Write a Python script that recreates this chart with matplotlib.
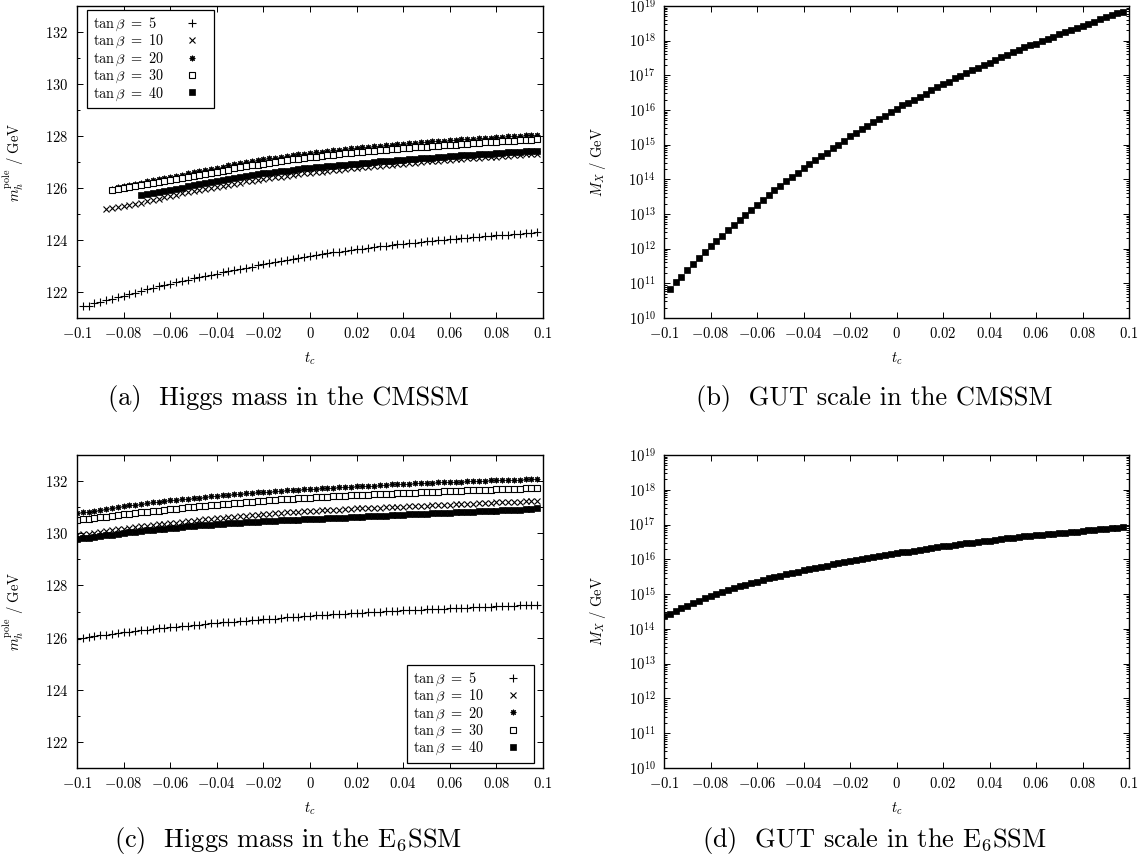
import numpy as np
import matplotlib
matplotlib.use("Agg")
import matplotlib.pyplot as plt
from matplotlib.ticker import FixedLocator, FuncFormatter, LogLocator, NullFormatter, MultipleLocator

plt.rcParams.update({
    "font.family": "serif",
    "font.serif": ["cmr10"],
    "mathtext.fontset": "cm",
    "axes.formatter.use_mathtext": True,
    "axes.unicode_minus": False,
})

# ---- scan grids in t_c (step 0.0025) ----
tc_cmssm = np.round(np.arange(-39, 40) * 0.0025, 4)      # -0.0975 ... 0.0975
tc_e6ssm = np.round(np.arange(-40, 40) * 0.0025, 4)      # -0.1 ... 0.0975

tan_beta = [5, 10, 20, 30, 40]

# ---- CMSSM: pole Higgs mass / GeV (series end at t_c = 0.0975) ----
mh_cmssm_tb5 = [
    121.46, 121.48, 121.56, 121.62, 121.68, 121.74, 121.80, 121.86, 121.92, 121.98,
    122.04, 122.10, 122.16, 122.22, 122.27, 122.32, 122.37, 122.42, 122.47, 122.52,
    122.57, 122.62, 122.66, 122.71, 122.75, 122.80, 122.84, 122.89, 122.93, 122.97,
    123.02, 123.06, 123.10, 123.15, 123.19, 123.23, 123.27, 123.31, 123.35, 123.39,
    123.42, 123.45, 123.49, 123.52, 123.55, 123.58, 123.61, 123.64, 123.67, 123.70,
    123.72, 123.75, 123.78, 123.80, 123.83, 123.85, 123.88, 123.90, 123.92, 123.95,
    123.97, 123.99, 124.01, 124.03, 124.05, 124.07, 124.09, 124.11, 124.13, 124.15,
    124.16, 124.18, 124.20, 124.21, 124.23, 124.24, 124.26, 124.27, 124.29,
]
mh_cmssm_tb10 = [
    125.20, 125.23, 125.27, 125.31, 125.35, 125.39, 125.44, 125.49, 125.54, 125.59,
    125.64, 125.69, 125.74, 125.79, 125.84, 125.89, 125.93, 125.97, 126.01, 126.05,
    126.09, 126.13, 126.17, 126.21, 126.25, 126.28, 126.32, 126.35, 126.38, 126.41,
    126.44, 126.47, 126.50, 126.53, 126.56, 126.58, 126.61, 126.63, 126.66, 126.68,
    126.71, 126.73, 126.75, 126.78, 126.80, 126.82, 126.84, 126.86, 126.88, 126.90,
    126.92, 126.94, 126.96, 126.98, 127.00, 127.02, 127.04, 127.05, 127.07, 127.09,
    127.10, 127.12, 127.14, 127.15, 127.17, 127.18, 127.20, 127.21, 127.23, 127.24,
    127.26, 127.27, 127.29, 127.30, 127.32,
]
mh_cmssm_tb20 = [
    125.98, 126.03, 126.07, 126.12, 126.16, 126.21, 126.25, 126.29, 126.33, 126.38,
    126.42, 126.47, 126.51, 126.56, 126.60, 126.65, 126.69, 126.74, 126.78, 126.82,
    126.87, 126.91, 126.95, 126.99, 127.03, 127.07, 127.10, 127.14, 127.17, 127.20,
    127.23, 127.26, 127.29, 127.32, 127.35, 127.37, 127.40, 127.42, 127.45, 127.47,
    127.50, 127.52, 127.54, 127.56, 127.58, 127.60, 127.62, 127.64, 127.66, 127.68,
    127.70, 127.72, 127.73, 127.75, 127.77, 127.79, 127.80, 127.82, 127.84, 127.85,
    127.87, 127.88, 127.90, 127.91, 127.93, 127.94, 127.96, 127.97, 127.99, 128.00,
    128.01, 128.02, 128.04, 128.05,
]
mh_cmssm_tb30 = [
    125.93, 125.96, 126.00, 126.04, 126.07, 126.11, 126.15, 126.19, 126.22, 126.26,
    126.30, 126.34, 126.38, 126.43, 126.47, 126.51, 126.55, 126.59, 126.63, 126.67,
    126.71, 126.75, 126.79, 126.83, 126.87, 126.90, 126.94, 126.97, 127.01, 127.04,
    127.07, 127.10, 127.13, 127.15, 127.18, 127.21, 127.23, 127.26, 127.28, 127.30,
    127.33, 127.35, 127.37, 127.39, 127.41, 127.43, 127.45, 127.47, 127.49, 127.50,
    127.52, 127.54, 127.56, 127.57, 127.59, 127.61, 127.62, 127.64, 127.66, 127.67,
    127.69, 127.70, 127.72, 127.73, 127.75, 127.76, 127.78, 127.79, 127.80, 127.82,
    127.83, 127.84, 127.86, 127.87,
]
mh_cmssm_tb40 = [
    125.72, 125.76, 125.80, 125.85, 125.89, 125.93, 125.97, 126.01, 126.06, 126.10,
    126.14, 126.18, 126.23, 126.27, 126.31, 126.35, 126.38, 126.42, 126.46, 126.49,
    126.53, 126.56, 126.59, 126.62, 126.64, 126.67, 126.70, 126.72, 126.75, 126.77,
    126.79, 126.82, 126.84, 126.86, 126.88, 126.90, 126.92, 126.94, 126.96, 126.98,
    127.00, 127.02, 127.04, 127.05, 127.07, 127.09, 127.11, 127.12, 127.14, 127.16,
    127.17, 127.19, 127.20, 127.22, 127.23, 127.25, 127.26, 127.28, 127.29, 127.31,
    127.32, 127.34, 127.35, 127.37, 127.38, 127.40, 127.41, 127.43, 127.44,
]

# ---- CMSSM: log10(M_X / GeV) ----
log_mx_cmssm = [
    10.85, 11.03, 11.19, 11.38, 11.55, 11.72, 11.90, 12.07, 12.22, 12.37,
    12.54, 12.69, 12.83, 12.98, 13.12, 13.26, 13.41, 13.55, 13.68, 13.81,
    13.94, 14.08, 14.19, 14.34, 14.43, 14.55, 14.67, 14.77, 14.89, 15.00,
    15.12, 15.25, 15.34, 15.44, 15.53, 15.65, 15.74, 15.84, 15.93, 16.03,
    16.13, 16.20, 16.30, 16.38, 16.46, 16.57, 16.66, 16.74, 16.82, 16.91,
    16.99, 17.07, 17.14, 17.22, 17.29, 17.37, 17.45, 17.52, 17.60, 17.66,
    17.74, 17.81, 17.87, 17.91, 17.98, 18.04, 18.12, 18.18, 18.25, 18.31,
    18.37, 18.43, 18.48, 18.54, 18.62, 18.67, 18.73, 18.79, 18.83,
]

# ---- E6SSM: pole Higgs mass / GeV ----
mh_e6ssm_tb5 = [
    125.95, 125.99, 126.02, 126.05, 126.08, 126.11, 126.14, 126.17, 126.20, 126.23,
    126.25, 126.28, 126.30, 126.33, 126.35, 126.38, 126.40, 126.42, 126.44, 126.46,
    126.48, 126.50, 126.52, 126.54, 126.56, 126.58, 126.60, 126.61, 126.63, 126.65,
    126.66, 126.68, 126.70, 126.72, 126.73, 126.75, 126.77, 126.79, 126.80, 126.82,
    126.84, 126.85, 126.87, 126.88, 126.90, 126.91, 126.92, 126.94, 126.95, 126.96,
    126.97, 126.98, 127.00, 127.01, 127.02, 127.03, 127.04, 127.05, 127.06, 127.07,
    127.08, 127.09, 127.10, 127.11, 127.12, 127.13, 127.14, 127.15, 127.16, 127.17,
    127.18, 127.19, 127.20, 127.21, 127.22, 127.23, 127.24, 127.24, 127.25, 127.26,
]
mh_e6ssm_tb10 = [
    129.92, 129.96, 129.99, 130.02, 130.05, 130.08, 130.11, 130.15, 130.18, 130.21,
    130.24, 130.26, 130.29, 130.32, 130.34, 130.37, 130.39, 130.41, 130.44, 130.46,
    130.48, 130.50, 130.53, 130.55, 130.57, 130.59, 130.61, 130.63, 130.65, 130.67,
    130.69, 130.71, 130.73, 130.75, 130.76, 130.78, 130.80, 130.81, 130.83, 130.84,
    130.86, 130.87, 130.88, 130.89, 130.90, 130.91, 130.92, 130.93, 130.95, 130.96,
    130.96, 130.97, 130.98, 130.99, 131.00, 131.01, 131.02, 131.03, 131.04, 131.05,
    131.06, 131.07, 131.08, 131.09, 131.10, 131.11, 131.12, 131.13, 131.14, 131.15,
    131.16, 131.17, 131.18, 131.19, 131.19, 131.20, 131.21, 131.22, 131.23, 131.24,
]
mh_e6ssm_tb20 = [
    130.76, 130.80, 130.83, 130.87, 130.90, 130.94, 130.97, 131.01, 131.04, 131.07,
    131.10, 131.13, 131.15, 131.18, 131.21, 131.23, 131.26, 131.28, 131.31, 131.33,
    131.35, 131.37, 131.40, 131.42, 131.44, 131.46, 131.48, 131.50, 131.51, 131.53,
    131.55, 131.57, 131.58, 131.60, 131.61, 131.63, 131.64, 131.66, 131.67, 131.69,
    131.70, 131.71, 131.73, 131.74, 131.75, 131.76, 131.78, 131.79, 131.80, 131.81,
    131.82, 131.83, 131.85, 131.86, 131.87, 131.88, 131.89, 131.90, 131.91, 131.92,
    131.93, 131.94, 131.95, 131.96, 131.97, 131.98, 131.98, 131.99, 132.00, 132.01,
    132.02, 132.03, 132.03, 132.04, 132.05, 132.06, 132.06, 132.07, 132.08, 132.09,
]
mh_e6ssm_tb30 = [
    130.50, 130.53, 130.56, 130.58, 130.61, 130.64, 130.67, 130.69, 130.72, 130.75,
    130.77, 130.80, 130.82, 130.85, 130.87, 130.90, 130.92, 130.94, 130.97, 130.99,
    131.01, 131.03, 131.06, 131.08, 131.10, 131.12, 131.14, 131.16, 131.17, 131.19,
    131.21, 131.23, 131.25, 131.26, 131.28, 131.30, 131.31, 131.33, 131.34, 131.36,
    131.37, 131.38, 131.39, 131.40, 131.42, 131.43, 131.44, 131.45, 131.46, 131.47,
    131.48, 131.49, 131.50, 131.51, 131.52, 131.53, 131.54, 131.55, 131.56, 131.57,
    131.58, 131.59, 131.60, 131.61, 131.62, 131.62, 131.63, 131.64, 131.65, 131.66,
    131.66, 131.67, 131.68, 131.69, 131.70, 131.71, 131.71, 131.72, 131.73, 131.74,
]
mh_e6ssm_tb40 = [
    129.77, 129.80, 129.83, 129.87, 129.89, 129.92, 129.95, 129.98, 130.02, 130.04,
    130.06, 130.09, 130.11, 130.13, 130.15, 130.18, 130.20, 130.22, 130.24, 130.26,
    130.28, 130.30, 130.31, 130.33, 130.35, 130.36, 130.38, 130.39, 130.41, 130.42,
    130.43, 130.44, 130.46, 130.47, 130.48, 130.49, 130.50, 130.51, 130.52, 130.53,
    130.54, 130.55, 130.56, 130.57, 130.58, 130.59, 130.60, 130.61, 130.63, 130.64,
    130.65, 130.66, 130.67, 130.68, 130.69, 130.70, 130.71, 130.72, 130.73, 130.74,
    130.75, 130.76, 130.77, 130.78, 130.79, 130.80, 130.81, 130.82, 130.83, 130.84,
    130.85, 130.86, 130.87, 130.88, 130.89, 130.90, 130.91, 130.92, 130.93, 130.95,
]

# ---- E6SSM: log10(M_X / GeV) ----
log_mx_e6ssm = [
    14.36, 14.44, 14.52, 14.60, 14.67, 14.74, 14.81, 14.88, 14.95, 15.01,
    15.07, 15.12, 15.17, 15.22, 15.27, 15.32, 15.36, 15.41, 15.45, 15.49,
    15.53, 15.57, 15.61, 15.65, 15.68, 15.72, 15.75, 15.79, 15.82, 15.86,
    15.89, 15.92, 15.95, 15.98, 16.01, 16.04, 16.07, 16.09, 16.12, 16.14,
    16.17, 16.20, 16.22, 16.25, 16.27, 16.30, 16.32, 16.35, 16.37, 16.39,
    16.41, 16.44, 16.46, 16.48, 16.50, 16.52, 16.54, 16.56, 16.58, 16.60,
    16.62, 16.64, 16.66, 16.67, 16.69, 16.71, 16.72, 16.74, 16.76, 16.77,
    16.79, 16.80, 16.82, 16.84, 16.85, 16.87, 16.88, 16.90, 16.91, 16.93,
]

# gnuplot-like point types for the five tan(beta) values
POINT_STYLE = {
    5:  dict(marker="+", ms=5.2, mew=0.8, mfc="none"),
    10: dict(marker="x", ms=3.8, mew=0.8, mfc="none"),
    20: dict(marker=(8, 2, 0), ms=4.0, mew=0.8, mfc="none"),
    30: dict(marker="s", ms=4.0, mew=0.8, mfc="white"),
    40: dict(marker="s", ms=4.6, mew=0.5, mfc="black"),
}

W, H = 1143, 864
DPI = 100
TICK_FS = 10.5
LEG_FS = 10.3
CAP_FS = 19


def px_axes(fig, left, top, right, bottom):
    return fig.add_axes([left / W, 1 - bottom / H, (right - left) / W, (bottom - top) / H])


def tc_label(v, _pos):
    v = round(v, 3) + 0.0
    return f"${v:g}$"


def style_axes(ax, log=False):
    ax.set_xlim(-0.1, 0.1)
    ax.xaxis.set_major_locator(FixedLocator(np.round(np.arange(-0.1, 0.1001, 0.02), 2)))
    ax.xaxis.set_major_formatter(FuncFormatter(tc_label))
    if log:
        ax.set_yscale("log")
        ax.set_ylim(1e10, 1e19)
        ax.yaxis.set_major_locator(LogLocator(base=10, numticks=20))
        ax.yaxis.set_minor_locator(LogLocator(base=10, subs=np.arange(2, 10), numticks=100))
        ax.yaxis.set_minor_formatter(NullFormatter())
    else:
        ax.set_ylim(121, 133)
        ax.yaxis.set_major_locator(MultipleLocator(2))
        ax.yaxis.set_minor_locator(MultipleLocator(1))
        ax.yaxis.set_major_formatter(FuncFormatter(lambda v, p: f"${v:.0f}$"))
    ax.tick_params(which="both", direction="in", top=True, right=True, width=0.7,
                   labelsize=TICK_FS, pad=6)
    ax.tick_params(which="major", length=4)
    ax.tick_params(which="minor", length=2)
    for sp in ax.spines.values():
        sp.set_linewidth(1.0)
    ax.set_xlabel(r"$t_c$", fontsize=TICK_FS)
    ax.xaxis.set_label_coords(0.5, -0.105)


def higgs_panel(ax, tc, series, legend_loc, legend_anchor):
    for tb, vals in zip(tan_beta, series):
        ax.plot(tc[-len(vals):], vals, ls="none", color="black", mec="black",
                label=rf"$\tan\beta\ =\ {tb}$", **POINT_STYLE[tb])
    style_axes(ax)
    ax.set_ylabel(r"$m_h^{\mathrm{pole}}\ /\ \mathrm{GeV}$", fontsize=TICK_FS)
    ax.yaxis.set_label_coords(-0.11, 0.5)
    leg = ax.legend(loc=legend_loc, bbox_to_anchor=legend_anchor, markerfirst=False,
                    numpoints=1, fontsize=LEG_FS, fancybox=False, framealpha=1,
                    edgecolor="black", borderpad=0.4, labelspacing=0.0,
                    handlelength=2.2, handletextpad=0.9, borderaxespad=0)
    leg.get_frame().set_linewidth(0.9)
    return leg


def left_align_legend(leg, renderer):
    """Left-align the legend texts while keeping the markers in one column on the right."""
    sep0 = leg.handletextpad * leg._fontsize
    for column in leg._legend_handle_box.get_children():
        items = column.get_children()
        widths = [it.get_children()[0]._text.get_window_extent(renderer).width for it in items]
        wmax = max(widths)
        for it, w in zip(items, widths):
            it.sep = sep0 + (wmax - w) * 72.0 / DPI
        column.align = "left"


def scale_panel(ax, tc, log_vals):
    ax.plot(tc[-len(log_vals):], 10.0 ** np.asarray(log_vals), ls="none",
            color="black", **POINT_STYLE[40])
    style_axes(ax, log=True)
    ax.set_ylabel(r"$M_X\ /\ \mathrm{GeV}$", fontsize=TICK_FS)
    ax.yaxis.set_label_coords(-0.12, 0.5)


fig = plt.figure(figsize=(W / DPI, H / DPI), dpi=DPI)

ax_a = px_axes(fig, 77, 6, 543, 318)
ax_b = px_axes(fig, 664, 6, 1129, 318)
ax_c = px_axes(fig, 77, 455, 543, 768)
ax_d = px_axes(fig, 664, 455, 1129, 768)

leg_a = higgs_panel(ax_a, tc_cmssm,
                    [mh_cmssm_tb5, mh_cmssm_tb10, mh_cmssm_tb20, mh_cmssm_tb30, mh_cmssm_tb40],
                    "upper left", ((87 - 77) / 466, 1 - 4 / 312))
scale_panel(ax_b, tc_cmssm, log_mx_cmssm)
leg_c = higgs_panel(ax_c, tc_e6ssm,
                    [mh_e6ssm_tb5, mh_e6ssm_tb10, mh_e6ssm_tb20, mh_e6ssm_tb30, mh_e6ssm_tb40],
                    "lower right", (1 - 9 / 466, 5 / 313))
scale_panel(ax_d, tc_e6ssm, log_mx_e6ssm)

fig.text(288 / W, 1 - 398 / H, "(a)  Higgs mass in the CMSSM", ha="center", va="center", fontsize=CAP_FS)
fig.text(874 / W, 1 - 398 / H, "(b)  GUT scale in the CMSSM", ha="center", va="center", fontsize=CAP_FS)
fig.text(288 / W, 1 - 840 / H, r"(c)  Higgs mass in the E$_6$SSM", ha="center", va="center", fontsize=CAP_FS)
fig.text(874 / W, 1 - 840 / H, r"(d)  GUT scale in the E$_6$SSM", ha="center", va="center", fontsize=CAP_FS)

fig.canvas.draw()
renderer = fig.canvas.get_renderer()
left_align_legend(leg_a, renderer)
left_align_legend(leg_c, renderer)

fig.savefig("out.png", dpi=DPI)
